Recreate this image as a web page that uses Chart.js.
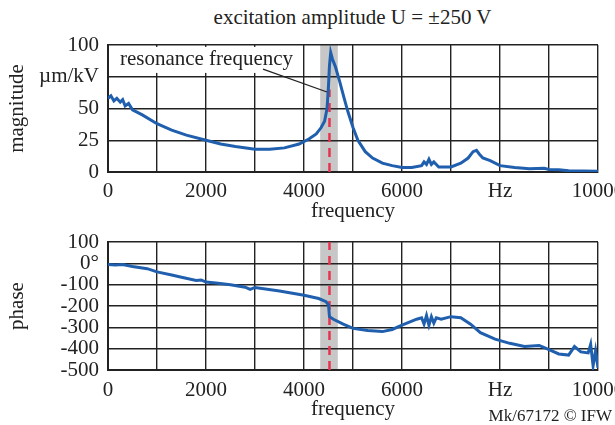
<!DOCTYPE html>
<html>
<head>
<meta charset="utf-8">
<script src="https://cdn.jsdelivr.net/npm/chart.js@4.4.1/dist/chart.umd.min.js"></script>
<style>
  body { margin: 0; background: #fff; font-family: 'Liberation Serif', serif; color: #222; }
  #wrap { position: relative; width: 615px; height: 425px; overflow: hidden; }
  canvas { position: absolute; left: 0; }
  #title { position: absolute; left: 90px; width: 525px; top: 4px; text-align: center; font-size: 21px; line-height: 26px; }
  #credit { position: absolute; right: 3px; top: 406px; font-size: 17px; line-height: 20px; }
</style>
</head>
<body>
<div id="wrap">
  <div id="title">excitation amplitude U = ±250 V</div>
  <canvas id="mag-chart" width="615" height="225" style="top:0"></canvas>
  <canvas id="phase-chart" width="615" height="200" style="top:225px"></canvas>
  <div id="credit">Mk/67172 © IFW</div>
</div>
<script>
// magnitude in µm/kV over frequency in Hz
const magFreq = [0, 60, 120, 180, 250, 300, 350, 420, 500, 700, 1000, 1300, 1600, 2000, 2300, 2600, 3000, 3300, 3600, 3900, 4100, 4250, 4350, 4420, 4470, 4500, 4520, 4545, 4580, 4640, 4730, 4820, 4900, 5000, 5100, 5250, 5400, 5600, 5800, 6000, 6200, 6400, 6450, 6500, 6550, 6600, 6650, 6750, 7000, 7200, 7350, 7450, 7520, 7580, 7650, 7800, 8000, 8300, 8600, 8900, 9000, 9200, 9400, 9700, 10000];
const magValue = [58, 60, 56, 58, 55, 57, 52, 54, 49, 45, 38, 33, 29, 25, 22, 20, 18, 18, 19, 22, 26, 30, 35, 40, 50, 68, 84, 94, 89, 83, 71, 58, 47, 35, 25, 16, 11, 7, 5, 3.5, 3.5, 5, 8, 6, 10, 6, 8, 4, 4, 7, 11, 16, 17, 14, 11, 9, 5, 3.5, 2.5, 3, 2, 1.8, 1, 0.8, 0.5];

// phase in degrees over frequency in Hz
const phaseFreq = [0, 150, 300, 500, 800, 1000, 1300, 1500, 1800, 1900, 2000, 2200, 2500, 2800, 2900, 3000, 3500, 4000, 4300, 4450, 4500, 4520, 4600, 4800, 5000, 5300, 5600, 5800, 6000, 6300, 6400, 6450, 6500, 6550, 6600, 6650, 6700, 6800, 7000, 7200, 7400, 7600, 7900, 8200, 8500, 8800, 9000, 9200, 9400, 9520, 9650, 9800, 9850, 9900, 9950, 10000];
const phaseValue = [-5, -8, -6, -15, -25, -40, -55, -65, -80, -78, -88, -92, -100, -112, -122, -113, -130, -150, -165, -180, -195, -250, -262, -285, -305, -315, -320, -310, -290, -262, -255, -285, -245, -290, -250, -280, -255, -262, -250, -255, -285, -325, -355, -375, -390, -385, -405, -425, -430, -390, -415, -420, -380, -480, -410, -490];

const magTicks = { min: 0, max: 100, step: 25 };
const phaseTicks = { min: -500, max: 100, step: 100 };
const freqTicks = { min: 0, max: 10000, step: 1000 };

// resonance marker
const bandFrom = 4330;
const bandTo = 4690;
const resonance = 4520;
const resMarkTop = 65;
const noteText = 'resonance frequency';
const noteBox = { x0: 80, x1: 3920, y0: 98.5, y1: 78 };
const noteAt = { x: 2010, y: 88.5 };
const leader = { x0: 3163, y0: 81, x1: 4470, y1: 63 };

const FONT = { family: "'Liberation Serif', serif", size: 21 };
const INK = '#222';
const BLUE = '#1f5fae';

function pairs(xs, ys) {
    return xs.map((x, i) => ({ x, y: ys[i] }));
}

function freqLabel(v) {
    if (v % 2000 !== 0) return '';
    if (v === 8000) return 'Hz';
    return String(v);
}

// gray band and red dashed line at the resonance
function resonancePlugin(topValue) {
    return {
        id: 'resonance',
        beforeDraw(chart) {
            const { ctx, chartArea: a, scales: { x } } = chart;
            ctx.save();
            ctx.fillStyle = 'rgba(180,180,180,0.75)';
            const l = x.getPixelForValue(bandFrom), r = x.getPixelForValue(bandTo);
            ctx.fillRect(l, a.top, r - l, a.bottom - a.top);
            ctx.restore();
        },
        beforeDatasetsDraw(chart) {
            const { ctx, chartArea: a, scales: { x, y } } = chart;
            const px = x.getPixelForValue(resonance);
            const top = topValue == null ? a.top : y.getPixelForValue(topValue);
            ctx.save();
            ctx.strokeStyle = '#e8334f';
            ctx.lineWidth = 2.5;
            ctx.setLineDash([9, 6]);
            ctx.beginPath();
            ctx.moveTo(px, a.bottom);
            ctx.lineTo(px, top);
            ctx.stroke();
            ctx.restore();
        }
    };
}

const notePlugin = {
    id: 'note',
    afterDatasetsDraw(chart) {
        const { ctx, scales: { x, y } } = chart;
        ctx.save();
        ctx.fillStyle = '#fff';
        const bx = x.getPixelForValue(noteBox.x0), by = y.getPixelForValue(noteBox.y0);
        ctx.fillRect(bx, by, x.getPixelForValue(noteBox.x1) - bx, y.getPixelForValue(noteBox.y1) - by);
        ctx.fillStyle = INK;
        ctx.font = `${FONT.size}px ${FONT.family}`;
        ctx.textAlign = 'center';
        ctx.textBaseline = 'middle';
        ctx.fillText(noteText, x.getPixelForValue(noteAt.x), y.getPixelForValue(noteAt.y));
        ctx.strokeStyle = INK;
        ctx.lineWidth = 1.3;
        ctx.beginPath();
        ctx.moveTo(x.getPixelForValue(leader.x0), y.getPixelForValue(leader.y0));
        ctx.lineTo(x.getPixelForValue(leader.x1), y.getPixelForValue(leader.y1));
        ctx.stroke();
        ctx.restore();
    }
};

function makeChart(id, opts) {
    const xHeight = opts.xHeight;
    return new Chart(document.getElementById(id), {
        type: 'line',
        data: {
            datasets: [{ data: pairs(opts.xs, opts.ys), borderColor: BLUE, borderWidth: 3, pointRadius: 0, tension: 0, fill: false }]
        },
        options: {
            responsive: false,
            animation: false,
            events: [],
            layout: { padding: { top: opts.padTop, right: 17, left: 0, bottom: 0 } },
            plugins: { legend: { display: false }, tooltip: { enabled: false } },
            scales: {
                x: {
                    type: 'linear', min: freqTicks.min, max: freqTicks.max,
                    grid: { color: INK, lineWidth: 1.4, drawTicks: false },
                    border: { color: INK, width: 2 },
                    ticks: { stepSize: freqTicks.step, autoSkip: false, maxRotation: 0, padding: opts.xTickPad, color: INK, font: FONT, callback: freqLabel },
                    title: { display: true, text: 'frequency', color: INK, font: FONT, padding: { top: 0, bottom: opts.xTitlePad } },
                    afterFit(s) { s.height = xHeight; s.paddingLeft = 0; s.paddingRight = 0; }
                },
                y: {
                    min: opts.ticks.min, max: opts.ticks.max,
                    grid: { color: INK, lineWidth: 1.4, drawTicks: false },
                    border: { color: INK, width: 2 },
                    ticks: { stepSize: opts.ticks.step, autoSkip: false, padding: 9, color: INK, font: FONT, callback: opts.yLabel },
                    title: { display: true, text: opts.yTitle, color: INK, font: FONT, padding: { top: 5, bottom: 0 } },
                    afterFit(s) { s.width = 108; s.paddingTop = 0; s.paddingBottom = 0; }
                }
            }
        },
        plugins: opts.plugins
    });
}

makeChart('mag-chart', {
    xs: magFreq, ys: magValue, ticks: magTicks, yTitle: 'magnitude',
    yLabel: v => v === 75 ? 'µm/kV' : String(v),
    padTop: 45, xHeight: 53, xTickPad: 7, xTitlePad: 1,
    plugins: [resonancePlugin(resMarkTop), notePlugin]
});

makeChart('phase-chart', {
    xs: phaseFreq, ys: phaseValue, ticks: phaseTicks, yTitle: 'phase',
    yLabel: v => v === 0 ? '0°' : String(v),
    padTop: 17, xHeight: 55, xTickPad: 8, xTitlePad: 3,
    plugins: [resonancePlugin(null)]
});
</script>
</body>
</html>
